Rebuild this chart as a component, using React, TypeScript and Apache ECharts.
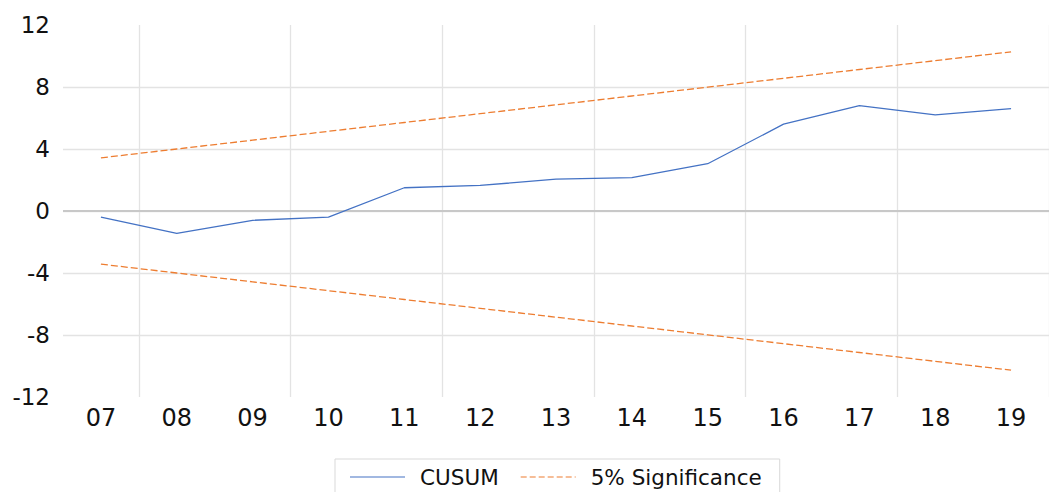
import React, { useEffect, useRef } from "react";
import * as echarts from "echarts";

const years = ["07", "08", "09", "10", "11", "12", "13", "14", "15", "16", "17", "18", "19"];
const cusum = [-0.4, -1.45, -0.6, -0.4, 1.5, 1.65, 2.05, 2.15, 3.05, 5.6, 6.8, 6.2, 6.6];
const upper = [3.43, 4.0, 4.57, 5.14, 5.71, 6.28, 6.85, 7.42, 7.99, 8.56, 9.13, 9.7, 10.27];
const lower = [-3.43, -4.0, -4.57, -5.14, -5.71, -6.28, -6.85, -7.42, -7.99, -8.56, -9.13, -9.7, -10.27];

const FONT = "DejaVu Sans";

function dashedIcon(): string {
  let d = "";
  for (let x = 0; x < 55; x += 9) {
    const w = Math.min(6, 55 - x);
    d += `M${x},0 h${w} v1 h-${w} Z `;
  }
  return "path://" + d.trim();
}

export default function App() {
  const ref = useRef<HTMLDivElement>(null);
  useEffect(() => {
    if (!ref.current) return;
    const chart = echarts.init(ref.current, null, { renderer: "svg" });
    const orange = "#ED7D31";
    const blue = "#4472C4";
    chart.setOption({
      animation: false,
      backgroundColor: "#ffffff",
      grid: { left: 63, top: 25, width: 988, height: 372, containLabel: false },
      legend: {
        left: 335,
        top: 459,
        padding: [7, 18, 30, 15],
        borderColor: "#d9d9d9",
        borderWidth: 1,
        itemWidth: 55,
        itemHeight: 14,
        itemGap: 22,
        textStyle: { fontFamily: FONT, fontSize: 21.5, color: "#111111", padding: [0, 0, 0, 10] },
        data: [
          { name: "CUSUM", icon: "path://M0,0 h55 v1 h-55 Z", itemStyle: { color: blue } },
          { name: "5% Significance", icon: dashedIcon(), itemStyle: { color: orange } },
        ],
      },
      xAxis: {
        type: "category",
        data: years,
        boundaryGap: true,
        axisLine: { show: false },
        axisTick: { show: false },
        axisLabel: { fontFamily: FONT, fontSize: 24, color: "#111111", margin: 9 },
        splitLine: {
          show: true,
          interval: (i: number) => i % 2 === 1,
          lineStyle: { color: "#e3e3e3", width: 1.3 },
        },
      },
      yAxis: {
        type: "value",
        min: -12,
        max: 12,
        interval: 4,
        axisLine: { show: false },
        axisTick: { show: false },
        axisLabel: { fontFamily: FONT, fontSize: 23, color: "#111111", margin: 13 },
        splitLine: { show: true, showMinLine: false, showMaxLine: false, lineStyle: { color: "#e3e3e3", width: 1.3 } },
      },
      series: [
        {
          name: "CUSUM",
          type: "line",
          data: cusum,
          symbol: "none",
          lineStyle: { color: blue, width: 1.3 },
          itemStyle: { color: blue },
          z: 3,
          markLine: {
            silent: true,
            symbol: "none",
            label: { show: false },
            lineStyle: { color: "#c8c8c8", width: 2, type: "solid" },
            data: [{ yAxis: 0 }],
            z: 1,
          },
        },
        {
          name: "5% Significance",
          type: "line",
          data: upper,
          symbol: "none",
          lineStyle: { color: orange, width: 1.3, type: [7, 3] },
          itemStyle: { color: orange },
        },
        {
          name: "5% Significance",
          type: "line",
          data: lower,
          symbol: "none",
          lineStyle: { color: orange, width: 1.3, type: [7, 3] },
          itemStyle: { color: orange },
        },
      ],
    });
    return () => chart.dispose();
  }, []);
  return (
    <div
      ref={ref}
      style={{ position: "absolute", left: 0, top: 0, width: 1049, height: 492 }}
    />
  );
}
